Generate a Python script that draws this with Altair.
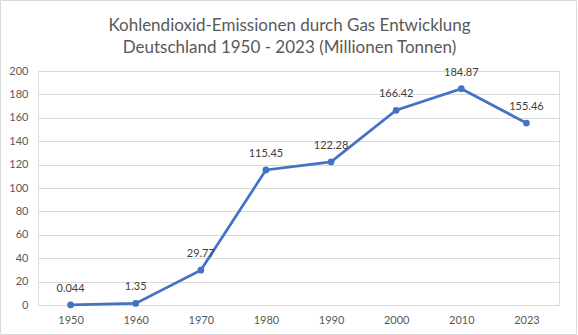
import altair as alt
import pandas as pd

years = ["1950", "1960", "1970", "1980", "1990", "2000", "2010", "2023"]
values = [0.044, 1.35, 29.77, 115.45, 122.28, 166.42, 184.87, 155.46]
labels = ["0.044", "1.35", "29.77", "115.45", "122.28", "166.42", "184.87", "155.46"]

df = pd.DataFrame({"year": years, "value": values, "label": labels})

FONT = "Lato"
W, H = 521, 234

x = alt.X("year:O", sort=years,
          scale=alt.Scale(type="point", padding=0.5),
          axis=alt.Axis(title=None, labelAngle=0, ticks=False, domain=True,
                        domainColor="#d9d9d9", labelColor="#595959",
                        labelFontSize=11, labelFont=FONT, labelPadding=9,
                        grid=False))
y = alt.Y("value:Q",
          scale=alt.Scale(domain=[0, 200], nice=False),
          axis=alt.Axis(title=None, values=list(range(0, 201, 20)), ticks=False,
                        domain=False, gridColor="#d9d9d9", labelColor="#595959",
                        labelFontSize=11, labelFont=FONT, labelPadding=10))

base = alt.Chart(df)
line = base.mark_line(color="#4472C4", strokeWidth=2.75).encode(x=x, y=y)
pts = base.mark_circle(color="#4472C4", size=45, opacity=1).encode(x=x, y=y)
txt = base.mark_text(dy=-16, fontSize=11, font=FONT, color="#404040").encode(
    x=x, y=y, text="label:N")

border = alt.Chart(pd.DataFrame({"a": [0]})).mark_rect(
    fillOpacity=0, stroke="#d9d9d9", strokeWidth=1).encode(
    x=alt.value(-37.5), x2=alt.value(538.5), y=alt.value(-70.5), y2=alt.value(263.5))

chart = alt.layer(border, line, pts, txt).properties(
    width=W, height=H,
    title=alt.TitleParams(
        text=["Kohlendioxid-Emissionen durch Gas Entwicklung",
              "Deutschland 1950 - 2023 (Millionen Tonnen)"],
        font=FONT, fontSize=17, fontWeight="normal", color="#595959",
        anchor="middle", frame="group", orient="top", baseline="bottom",
        dx=-9, offset=-74, lineHeight=22),
    autosize=alt.AutoSizeParams(type="none"),
    padding={"left": 38, "top": 71, "right": 19, "bottom": 30},
).configure_view(stroke=None).configure(background="white")

chart.save("out.html", embed_options={"renderer": "svg", "actions": False})
